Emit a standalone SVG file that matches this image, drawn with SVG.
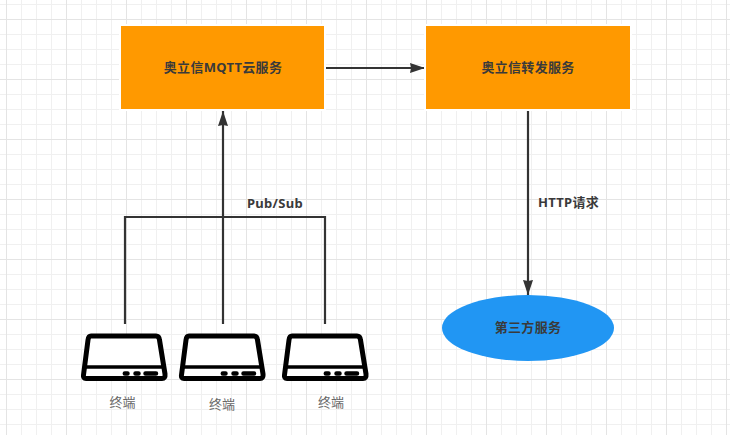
<svg xmlns="http://www.w3.org/2000/svg" width="730" height="435" viewBox="0 0 730 435">
<defs>
<pattern id="grid" width="60" height="60" patternUnits="userSpaceOnUse" x="6" y="19">
<path d="M15.500 0V60M30.500 0V60M45.500 0V60M0 15.500H60M0 30.500H60M0 45.500H60" fill="none" stroke="#f0f0f0" stroke-width="1"/>
<path d="M0.500 0V60M0 0.500H60" fill="none" stroke="#e4e4e4" stroke-width="1"/>
</pattern>
<marker id="ah" markerUnits="userSpaceOnUse" markerWidth="16" markerHeight="12" refX="15" refY="6" orient="auto">
<path d="M0 1L15 6L0 11L1 6Z" fill="#333"/>
</marker>
<symbol id="dev" width="88" height="50" viewBox="0 0 88 50" overflow="visible">
<path d="M10 3H75Q78 3 78.500 7L84 41Q84.500 45.500 81 45.500H5Q2 45.500 2.500 42L7 7Q7.500 3 10 3Z" fill="#fff" stroke="#000" stroke-width="5" stroke-linejoin="round"/>
<path d="M4 34H83" stroke="#000" stroke-width="3.500" fill="none"/>
<path d="M43.800 40.500H46.500M54.500 40.500H57.500M64.500 40.500H75" stroke="#000" stroke-width="4.500" stroke-linecap="round" fill="none"/>
</symbol>
</defs>
<style>
.box{fill:#ff9900;stroke:#fff;stroke-width:4;paint-order:stroke}
.t{font-family:"Noto Sans","Noto Sans CJK SC",sans-serif;font-size:13px;font-weight:700;fill:#3a3a3a;text-anchor:middle;letter-spacing:.3px}
.c{font-family:"Noto Sans CJK SC",sans-serif;font-size:13px;fill:#666;text-anchor:middle}
.l{fill:none;stroke:#333;stroke-width:2.200}
</style>
<rect width="730" height="435" fill="#fff"/>
<rect width="730" height="435" fill="url(#grid)"/>
<g id="connectors">
<path class="l" d="M326 68H425" marker-end="url(#ah)"/>
<path class="l" d="M223 324V111" marker-end="url(#ah)"/>
<path class="l" d="M125 324V217H325V324"/>
<path class="l" d="M528 111V295" marker-end="url(#ah)"/>
</g>
<g id="mqtt"><rect class="box" x="121" y="26" width="203" height="83"/><text class="t" x="223" y="72">奥立信MQTT云服务</text></g>
<g id="forward"><rect class="box" x="426" y="26" width="204" height="83"/><text class="t" x="528" y="72">奥立信转发服务</text></g>
<g id="third"><ellipse cx="528" cy="328" rx="86" ry="33" fill="#2196f3"/><text class="t" x="528" y="332">第三方服务</text></g>
<g id="label-pubsub"><text class="t" x="275" y="208">Pub/Sub</text></g>
<g id="label-http"><text class="t" x="568.500" y="207">HTTP请求</text></g>
<g id="terminal1"><use href="#dev" x="81" y="333"/><text class="c" x="122.500" y="407">终端</text></g>
<g id="terminal2"><use href="#dev" x="179" y="333"/><text class="c" x="222" y="409">终端</text></g>
<g id="terminal3"><use href="#dev" x="282" y="333"/><text class="c" x="331" y="407">终端</text></g>
</svg>
